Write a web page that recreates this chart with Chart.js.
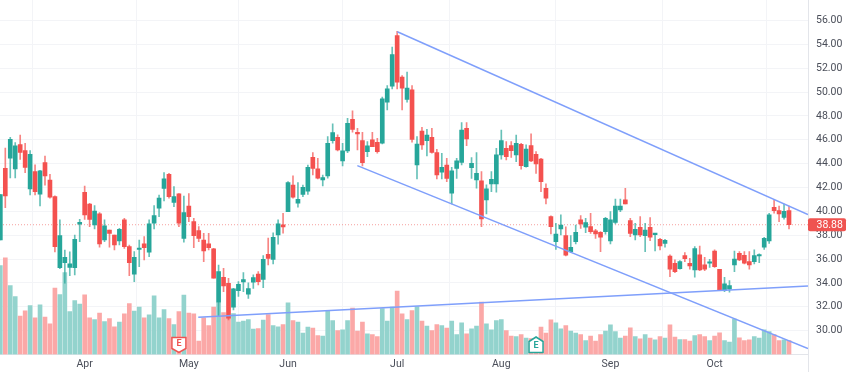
<!DOCTYPE html>
<html>
<head>
<meta charset="utf-8">
<style>html,body{margin:0;padding:0;background:#fff}canvas{display:block;filter:blur(0.45px)}</style>
<script src="https://cdn.jsdelivr.net/npm/chart.js@4"></script>
</head>
<body>
<canvas id="c" width="849" height="372"></canvas>
<script>
const opens = [37.6,43.6,44.45,43.55,45.6,45.09,41.88,43.33,41.45,44.1,
42.63,41.23,35.28,35.7,35.3,35.28,38.92,41.6,40.62,38.86,
39.8,37.6,38.44,38.02,37.52,39.28,37.04,34.73,36.8,37.27,
36.57,39.0,40.26,41.93,43.11,40.76,41.46,37.74,40.45,39.14,
38.39,37.6,37.27,36.85,32.38,34.48,33.97,31.96,33.36,34.08,
33.05,34.06,34.75,34.3,36.4,35.98,38.03,38.87,39.98,42.2,
40.68,41.43,41.7,44.54,43.56,42.64,42.97,45.93,46.21,44.23,
45.07,47.72,46.63,45.93,45.01,45.99,45.79,45.72,49.16,50.5,
54.74,51.25,49.38,50.19,43.89,46.74,45.93,46.21,44.92,43.28,
43.89,41.52,43.61,44.11,46.96,43.67,42.63,42.55,40.96,42.3,
42.3,44.73,45.29,45.51,44.73,45.62,43.75,45.51,44.79,44.39,
41.94,39.56,37.46,38.53,37.97,36.63,37.46,39.28,38.67,38.72,
38.36,38.25,38.3,37.52,39.08,40.12,40.96,39.22,38.02,38.67,
37.97,38.67,38.05,37.66,37.32,36.26,35.65,35.2,36.29,35.65,
35.09,36.35,35.51,35.65,36.68,35.15,33.36,33.47,35.51,36.49,
36.32,35.79,35.79,36.26,36.99,37.52,40.34,40.06,39.5,40.06];
const closes = [41.4,41.3,46.04,45.5,44.95,43.69,44.78,41.65,43.4,42.97,
41.18,37.04,37.97,36.15,35.6,37.66,39.08,39.7,39.33,40.03,
37.27,38.78,38.16,37.18,38.5,37.04,35.7,36.15,36.9,36.96,
38.95,39.64,41.12,42.72,41.24,41.24,39.0,39.89,39.56,37.97,
37.74,36.68,36.96,34.39,34.95,33.75,31.04,33.5,33.89,34.28,
33.53,34.45,34.1,35.98,36.06,37.83,38.95,38.7,42.41,41.18,
41.0,42.02,43.7,43.61,42.78,42.83,45.71,46.6,45.15,45.07,
47.38,46.88,46.49,44.09,45.49,45.43,45.01,49.44,50.27,53.15,
50.83,50.33,50.33,46.03,45.65,45.57,46.4,44.95,43.05,43.7,
42.77,43.39,44.23,46.82,46.07,44.03,43.19,39.37,41.88,42.69,
44.73,45.93,44.59,45.09,45.71,43.84,45.23,44.23,43.97,42.49,
41.1,38.72,38.1,38.86,36.32,36.99,38.25,38.95,39.06,38.3,
38.1,37.83,39.42,39.28,40.45,40.45,40.62,38.16,38.5,38.02,
38.44,37.83,38.16,37.1,37.58,35.15,34.95,35.79,36.04,35.43,
36.88,35.09,35.15,35.71,35.37,33.41,33.92,33.78,36.01,35.93,
35.65,35.51,36.29,36.32,37.74,39.7,40.06,39.78,40.0,38.88];
const highs = [41.4,45.3,46.2,45.76,46.4,45.7,45.09,43.9,43.45,44.64,
43.1,41.3,39.28,36.76,36.6,38.02,39.33,42.13,40.67,40.48,
39.9,39.28,38.44,38.02,38.58,39.42,37.18,36.63,37.6,37.88,
39.28,40.48,41.37,43.25,43.19,42.07,41.5,41.29,41.5,39.42,
38.72,38.16,38.16,36.9,35.5,35.23,34.39,33.55,34.11,34.87,
34.0,34.67,34.95,36.3,37.75,38.2,39.28,39.84,42.5,42.97,
42.41,42.2,43.89,44.93,44.45,43.05,46.27,47.33,46.41,45.71,
47.8,48.42,46.97,46.63,45.85,46.63,46.13,49.58,50.55,53.77,
55.1,51.39,51.67,50.55,46.27,47.05,46.88,46.96,45.2,44.87,
44.45,43.7,44.45,47.44,47.44,44.51,44.92,43.33,42.22,43.33,
45.29,46.82,45.85,45.85,46.4,45.71,45.57,46.49,45.01,44.45,
42.3,39.62,39.0,39.7,38.7,37.97,38.86,39.64,39.42,39.84,
38.5,38.3,39.5,39.98,41.04,41.04,41.93,39.42,39.0,39.56,
39.0,39.48,38.16,37.74,37.66,36.35,35.93,35.87,36.54,36.07,
37.05,37.1,36.15,35.98,36.77,35.15,34.48,34.2,36.68,36.63,
36.63,36.63,36.77,36.43,37.83,39.84,40.96,40.45,40.62,40.45];
const lows = [37.6,40.3,42.8,42.8,44.36,43.25,41.37,41.37,40.45,42.2,
41.1,36.6,35.2,33.97,34.6,34.67,37.46,39.33,38.72,38.52,
36.99,37.46,36.99,36.76,37.18,36.9,34.6,34.11,35.37,35.93,
36.2,38.53,39.56,40.87,41.1,40.4,38.72,37.41,39.14,36.96,
37.46,35.79,36.77,34.39,31.2,33.27,30.9,31.74,32.86,33.27,
32.7,33.55,33.83,33.6,35.5,35.6,37.25,38.17,39.98,41.1,
40.35,41.24,41.43,43.05,42.72,42.13,42.78,45.71,45.07,43.81,
44.93,46.63,45.15,43.81,44.59,45.43,44.87,45.66,48.51,50.27,
50.27,48.51,49.16,45.8,42.72,45.2,44.65,44.87,42.72,42.72,
42.49,40.62,42.77,43.89,45.51,42.77,41.94,38.72,39.78,41.66,
41.6,44.37,44.31,44.53,44.17,43.53,43.7,44.17,43.19,41.66,
40.62,38.1,36.82,38.02,36.26,36.54,37.27,38.58,38.22,38.16,
37.74,36.63,38.08,37.27,38.95,39.98,40.62,37.88,37.6,37.88,
36.63,37.55,36.68,36.77,36.99,34.53,34.87,35.15,35.79,35.15,
34.48,35.03,35.03,35.31,35.31,33.36,33.27,33.22,34.95,35.87,
35.6,35.15,35.6,35.7,36.82,37.32,39.84,39.14,39.34,38.53];
const volumes = [8.9,9.67,6.9,5.8,3.83,4.37,4.9,3.67,4.97,3.73,
3.07,6.63,6.0,8.2,4.3,5.4,5.03,5.97,3.67,3.5,
4.13,3.3,3.6,2.77,3.23,4.07,5.1,4.33,4.73,3.67,
3.97,5.87,3.67,4.5,3.6,3.0,4.3,5.93,4.13,4.07,
1.33,3.67,2.9,4.73,5.2,4.2,3.9,4.1,3.23,3.33,
3.5,2.53,2.6,3.43,4.0,2.9,2.77,3.0,5.17,3.4,
3.23,2.13,2.73,2.63,1.9,1.83,4.4,3.4,2.4,2.47,
3.4,4.63,2.33,3.23,2.07,2.0,1.8,4.6,3.33,4.73,
6.33,4.07,3.5,4.4,4.8,3.33,2.83,2.4,3.0,2.9,
2.63,3.33,2.0,3.17,2.07,2.57,2.83,5.23,3.07,2.47,
3.4,3.5,2.4,1.83,1.8,2.0,1.63,1.6,1.5,2.73,
2.13,3.47,3.17,2.57,2.9,2.33,2.13,2.0,1.4,1.83,
1.33,2.0,2.33,2.97,2.3,1.63,1.83,2.67,1.8,1.57,
2.0,1.63,1.47,1.8,1.63,2.97,1.73,1.5,1.5,1.33,
1.9,2.0,1.8,1.4,1.83,2.17,1.4,1.23,3.53,1.67,
1.4,1.47,1.8,1.63,2.47,2.3,2.0,1.4,1.47,1.4];
const monthLabels = ['Apr','May','Jun','Jul','Aug','Sep','Oct'];
const monthBars = [17,38,58,80,101,123,144];
const priceTicks = [30,32,34,36,38,40,42,44,46,48,50,52,54,56];
const lastPrice = 38.88;
const earningsBars = [36,108];
const earningsColors = ['#ef5350','#26a69a'];
const upperTrend = [{x:80.03,y:55.06},{x:162.83,y:39.73}];
const lowerTrend = [{x:71.97,y:43.83},{x:162.83,y:28.5}];
const supportTrend = [{x:39.9,y:31.12},{x:162.83,y:33.75}];

const UP = '#26a69a', DOWN = '#f4514f', UP_V = '#93d3cd', DOWN_V = '#fba8a7', TREND = '#7f9ffb';
const xMin = -0.07, xMax = 162.83;
const idx = opens.map((_, i) => i);
const upFlag = i => closes[i] >= opens[i];
const trendDs = d => ({type:'line',data:d,xAxisID:'x',yAxisID:'y',borderColor:TREND,borderWidth:1.5,pointRadius:0,order:1});

const overlay = {
  id:'overlay',
  afterDraw(chart){
    const {ctx, scales:{x,y,yVol}, chartArea:a} = chart;
    ctx.save();
    ctx.strokeStyle = '#e3e5ea'; ctx.lineWidth = 1;
    ctx.beginPath(); ctx.moveTo(a.right+0.5,0); ctx.lineTo(a.right+0.5,372); ctx.stroke();
    earningsBars.forEach((b,i)=>{
      const cx = x.getPixelForValue(b), col = earningsColors[i];
      const bottom = yVol.getPixelForValue(0) - 2, top = bottom - 15.5;
      ctx.beginPath();
      ctx.moveTo(cx-7,top+4.5); ctx.lineTo(cx-7,top+0.5); ctx.lineTo(cx+7,top+0.5);
      ctx.lineTo(cx+7,bottom-4); ctx.lineTo(cx,bottom); ctx.lineTo(cx-7,bottom-4);
      ctx.closePath();
      if(i===1){
        ctx.beginPath();
        ctx.moveTo(cx-7,top+4.5); ctx.lineTo(cx,top); ctx.lineTo(cx+7,top+4.5);
        ctx.lineTo(cx+7,bottom); ctx.lineTo(cx-7,bottom);
        ctx.closePath();
      }
      ctx.fillStyle='#fff'; ctx.fill();
      ctx.strokeStyle=col; ctx.lineWidth=1.5; ctx.stroke();
      ctx.fillStyle=col; ctx.font='bold 9px Roboto'; ctx.textAlign='center'; ctx.textBaseline='middle';
      ctx.fillText('E',cx,top+(i===0?7:9));
    });
    const py = y.getPixelForValue(lastPrice);
    ctx.fillStyle='#ef5350';
    ctx.beginPath(); ctx.roundRect(a.right,py-6.5,38,13,2); ctx.fill();
    ctx.fillStyle='#fff'; ctx.font='10.5px Roboto'; ctx.textAlign='left'; ctx.textBaseline='middle';
    ctx.fillText(lastPrice.toFixed(2),a.right+8.5,py+0.5);
    ctx.restore();
  }
};
const noPad = s => {s.paddingTop=0;s.paddingBottom=0;s.paddingLeft=0;s.paddingRight=0;};

new Chart(document.getElementById('c'),{
  data:{datasets:[
    {type:'bar',label:'Volume',data:idx.map(i=>({x:i,y:volumes[i]})),yAxisID:'yVol',xAxisID:'x',
     backgroundColor:idx.map(i=>upFlag(i)?UP_V:DOWN_V),barThickness:4,grouped:false,order:6},
    {type:'line',label:'Last',data:[{x:xMin,y:lastPrice},{x:xMax,y:lastPrice}],xAxisID:'x',yAxisID:'y',
     borderColor:'rgba(239,83,80,.55)',borderWidth:1,borderDash:[1,2],pointRadius:0,order:5},
    {type:'bar',label:'Wick',data:idx.map(i=>({x:i,y:[lows[i],highs[i]]})),yAxisID:'y',xAxisID:'x',
     backgroundColor:idx.map(i=>upFlag(i)?'rgba(38,166,154,.7)':'rgba(244,81,79,.7)'),barThickness:1,grouped:false,order:4},
    {type:'bar',label:'Body',data:idx.map(i=>({x:i,y:[opens[i],closes[i]]})),yAxisID:'y',xAxisID:'x',
     backgroundColor:idx.map(i=>upFlag(i)?UP:DOWN),barThickness:4,minBarLength:1.5,grouped:false,order:3},
    trendDs(upperTrend),trendDs(lowerTrend),trendDs(supportTrend)
  ]},
  plugins:[overlay],
  options:{
    responsive:false,animation:false,
    layout:{padding:0},
    plugins:{legend:{display:false},tooltip:{enabled:false}},
    scales:{
      x:{type:'linear',min:xMin,max:xMax,offset:false,
        afterBuildTicks(s){s.ticks=monthBars.map(v=>({value:v}));},
        afterFit(s){s.height=17.5;noPad(s);},
        grid:{color:'#f3f4f7',drawTicks:false},
        border:{color:'#e3e5ea'},
        ticks:{autoSkip:false,maxRotation:0,padding:4,color:'#4a4e59',font:{family:'Roboto',size:10.5},
          callback:v=>monthLabels[monthBars.indexOf(v)]}},
      y:{type:'linear',position:'right',min:28,max:57.72,
        afterBuildTicks(s){s.ticks=priceTicks.map(v=>({value:v}));},
        afterFit(s){s.width=41;noPad(s);},
        grid:{color:'#f3f4f7',drawTicks:false},
        border:{display:false},
        ticks:{autoSkip:false,padding:8,color:'#4a4e59',font:{family:'Roboto',size:10.5},
          callback:v=>Number(v).toFixed(2)}},
      yVol:{type:'linear',display:false,min:0,max:35.45}
    }
  }
});
</script>
</body>
</html>
